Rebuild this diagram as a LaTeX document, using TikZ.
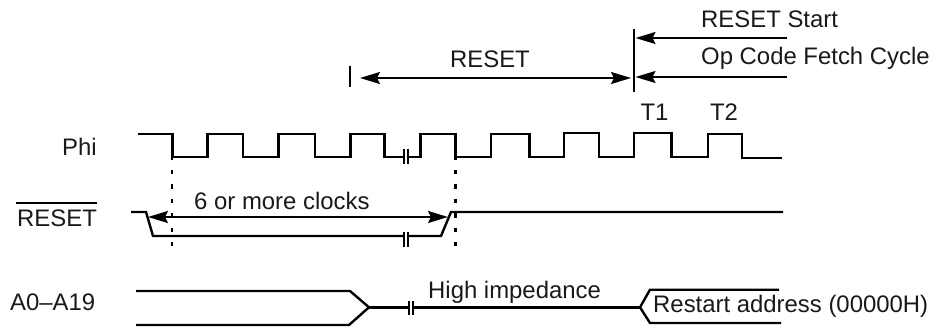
\documentclass[tikz,border=0pt]{standalone}
\usepackage{fontspec}
\setmainfont{Liberation Sans}
\usetikzlibrary{arrows.meta}
\tikzset{
  sig/.style={line width=2.4pt,line join=miter},
  thinline/.style={line width=2pt},
  headtip/.tip={Stealth[length=20pt,width=12pt,inset=3pt]},
  dim/.style={line width=2pt,headtip-headtip},
  lead/.style={line width=2pt,-headtip},
  brk/.style={line width=1.5pt},
  dots/.style={line width=2.7pt,dash pattern=on 4.7pt off 9.8pt},
  lab/.style={inner sep=0pt,font=\fontsize{23.9}{26}\selectfont,text=black!90}
}
\begin{document}
\begin{tikzpicture}[x=1pt,y=-1pt]
\useasboundingbox (0,0) rectangle (940,327);
% coordinates
\coordinate (rs) at (350,66);
\coordinate (re) at (350,87);
\coordinate (vs) at (634,29);
\coordinate (ve) at (634,92);
\coordinate (a1) at (360,78);
\coordinate (a2) at (631,78);
\coordinate (b1) at (787,38);
\coordinate (b2) at (635.5,38);
\coordinate (c1) at (787,77);
\coordinate (c2) at (635.5,77);
\coordinate (d1) at (148,217);
\coordinate (d2) at (448,217);
\coordinate (dl1) at (172,155);
\coordinate (dl2) at (172,246);
\coordinate (dr1) at (455.5,155);
\coordinate (dr2) at (455.5,246);
% ticks and leaders
\draw[thinline] (rs) -- (re);
\draw[thinline] (vs) -- (ve);
\draw[dim] (a1) -- (a2);
\draw[lead] (b1) -- (b2);
\draw[lead] (c1) -- (c2);
% Phi
\draw[sig] (138,134) -- (172.5,134) |- (207.5,157) |- (243,134) |- (278.5,157) |- (315,134) |- (350.5,157) |- (384.5,134) |- (420.5,157) |- (455.5,134) |- (491,157) |- (529.5,134) |- (564,157) |- (599,133) |- (634,157) |- (671.5,133) |- (708,157) |- (742,134) |- (782,158);
% RESET
\draw[sig] (131,212) -- (146,212) -- (153,236) -- (441,236) -- (451,212) -- (783,212);
\draw[dim] (d1) -- (d2);
\draw[dots] (dl1) -- (dl2);
\draw[dots] (dr1) -- (dr2);
% Address
\draw[sig] (136,291) -- (350,291) -- (369,307.3) -- (349,325) -- (136,325);
\draw[sig] (369,307.3) -- (640,307.3);
\draw[sig] (779,289.7) -- (650,289.7) -- (640,307.3) -- (650,323) -- (781,323);
% Breaks
\foreach \x/\ya/\yb in {406/149/164, 406/232/247, 411/301/315}{
  \fill[white] (\x-1.7,\ya) rectangle (\x+1.7,\yb);
  \draw[brk] (\x-1.8,\ya) -- (\x-1.8,\yb);
  \draw[brk] (\x+1.8,\ya) -- (\x+1.8,\yb);
}
% Labels
\node[lab,anchor=base west] (l1) at (701,27) {RESET Start};
\node[lab,anchor=base west] (l2) at (701,64) {Op Code Fetch Cycle};
\node[lab,anchor=base] (l3) at (490,67) {RESET};
\node[lab,anchor=base] (l4) at (654.5,120) {T1};
\node[lab,anchor=base] (l5) at (724,120) {T2};
\node[lab,anchor=base west] (l6) at (62,155) {Phi};
\node[lab,anchor=base west] (l7) at (194,209) {6 or more clocks};
\node[lab,anchor=base west] (l8) at (428,298) {High impedance};
\node[lab,anchor=base west] (l9) at (653,312) {Restart address (00000H)};
\node[lab,anchor=base west] (l10) at (10,310) {A0–A19};
\node[lab,anchor=base west] (l11) at (17,226) {RESET};
\draw[line width=2pt] (16,203) -- (97,203);
\end{tikzpicture}
\end{document}
